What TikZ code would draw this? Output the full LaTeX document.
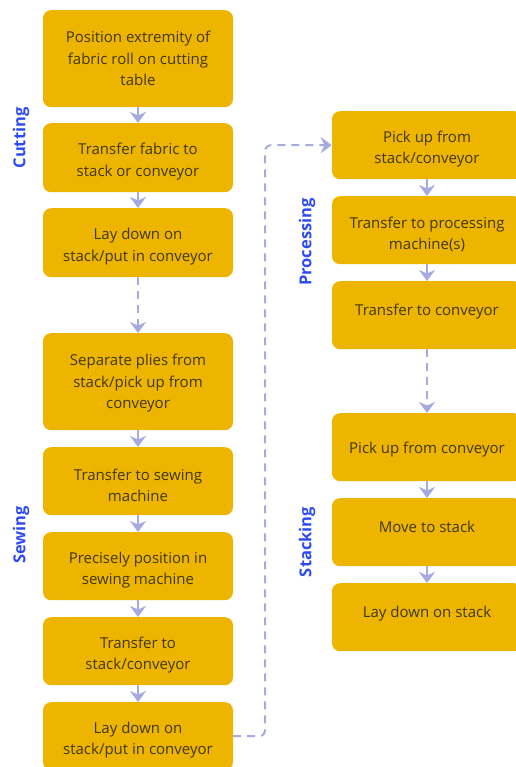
\documentclass[tikz,border=0pt]{standalone}
\usepackage{fontspec}
\setmainfont{Open Sans}
\usetikzlibrary{arrows.meta}
\definecolor{boxfill}{RGB}{237,181,0}
\definecolor{boxtext}{RGB}{66,55,10}
\definecolor{arrowc}{RGB}{165,170,225}
\definecolor{labelc}{RGB}{45,75,240}
\tikzset{
  stepbox/.style={fill=boxfill, rounded corners=8pt, minimum width=190pt, inner sep=0pt, anchor=north},
  steptext/.style={text=boxtext, font=\fontsize{15pt}{21.5pt}\selectfont, align=center, inner sep=0pt},
  phaselabel/.style={text=labelc, font=\fontsize{16.5pt}{19pt}\selectfont\bfseries, rotate=90, inner sep=0pt},
  flow/.style={draw=arrowc, line width=2pt, -{Stealth[length=11pt,width=16pt,inset=3.5pt]}},
  dashflow/.style={flow, dash pattern=on 8pt off 6pt},
}
\begin{document}
\begin{tikzpicture}[x=1pt,y=-1pt]
\useasboundingbox (0,0) rectangle (515,767);
% left column boxes
\node[stepbox, minimum height=97pt] (b1) at (138,10) {};
\node[stepbox, minimum height=69pt] (b2) at (138,123) {};
\node[stepbox, minimum height=69pt] (b3) at (138,208) {};
\node[stepbox, minimum height=97pt] (b4) at (138,333) {};
\node[stepbox, minimum height=68pt] (b5) at (138,447) {};
\node[stepbox, minimum height=68pt] (b6) at (138,532) {};
\node[stepbox, minimum height=68pt] (b7) at (138,617) {};
\node[stepbox, minimum height=68pt] (b8) at (138,702) {};
% right column boxes
\node[stepbox, minimum height=68pt] (r1) at (427,111) {};
\node[stepbox, minimum height=68pt] (r2) at (427,196) {};
\node[stepbox, minimum height=68pt] (r3) at (427,281) {};
\node[stepbox, minimum height=68pt] (r4) at (427,413) {};
\node[stepbox, minimum height=68pt] (r5) at (427,498) {};
\node[stepbox, minimum height=68pt] (r6) at (427,583) {};
% texts
\node[steptext] (t1) at (b1.center) {Position extremity of\\fabric roll on cutting\\table};
\node[steptext, yshift=-4pt] (t2) at (b2.center) {Transfer fabric to\\stack or conveyor};
\node[steptext, yshift=-4pt] (t3) at (b3.center) {Lay down on\\stack/put in conveyor};
\node[steptext, yshift=-1.5pt] (t4) at (b4.center) {Separate plies from\\stack/pick up from\\conveyor};
\node[steptext, yshift=-4pt] (t5) at (b5.center) {Transfer to sewing\\machine};
\node[steptext, yshift=-4pt] (t6) at (b6.center) {Precisely position in\\sewing machine};
\node[steptext, yshift=-4pt] (t7) at (b7.center) {Transfer to\\stack/conveyor};
\node[steptext, yshift=-4pt] (t8) at (b8.center) {Lay down on\\stack/put in conveyor};
\node[steptext, yshift=-4pt] (u1) at (r1.center) {Pick up from\\stack/conveyor};
\node[steptext, yshift=-4pt] (u2) at (r2.center) {Transfer to processing\\machine(s)};
\node[steptext, yshift=4pt] (u3) at (r3.center) {Transfer to conveyor};
\node[steptext, yshift=-2pt] (u4) at (r4.center) {Pick up from conveyor};
\node[steptext, yshift=5pt] (u5) at (r5.center) {Move to stack};
\node[steptext, yshift=4pt] (u6) at (r6.center) {Lay down on stack};
% phase labels
\node[phaselabel] (lcut) at (21,138) {Cutting};
\node[phaselabel] (lsew) at (21,535) {Sewing};
\node[phaselabel] (lproc) at (307,242) {Processing};
\node[phaselabel] (lstack) at (307,542) {Stacking};
% solid arrows
\draw[flow] (b1.south) -- (b2.north);
\draw[flow] (b2.south) -- (b3.north);
\draw[flow] (b4.south) -- (b5.north);
\draw[flow] (b5.south) -- (b6.north);
\draw[flow] (b6.south) -- (b7.north);
\draw[flow] (b7.south) -- (b8.north);
\draw[flow] (r1.south) -- (r2.north);
\draw[flow] (r2.south) -- (r3.north);
\draw[flow] (r4.south) -- (r5.north);
\draw[flow] (r5.south) -- (r6.north);
% dashed arrows
\draw[dashflow] (b3.south) -- (b4.north);
\draw[dashflow] (r3.south) -- (r4.north);
\coordinate (elbow) at (265,0);
\draw[dashflow, rounded corners=6pt] (b8.east) -| (elbow |- r1.west) -- (r1.west);
\end{tikzpicture}
\end{document}
